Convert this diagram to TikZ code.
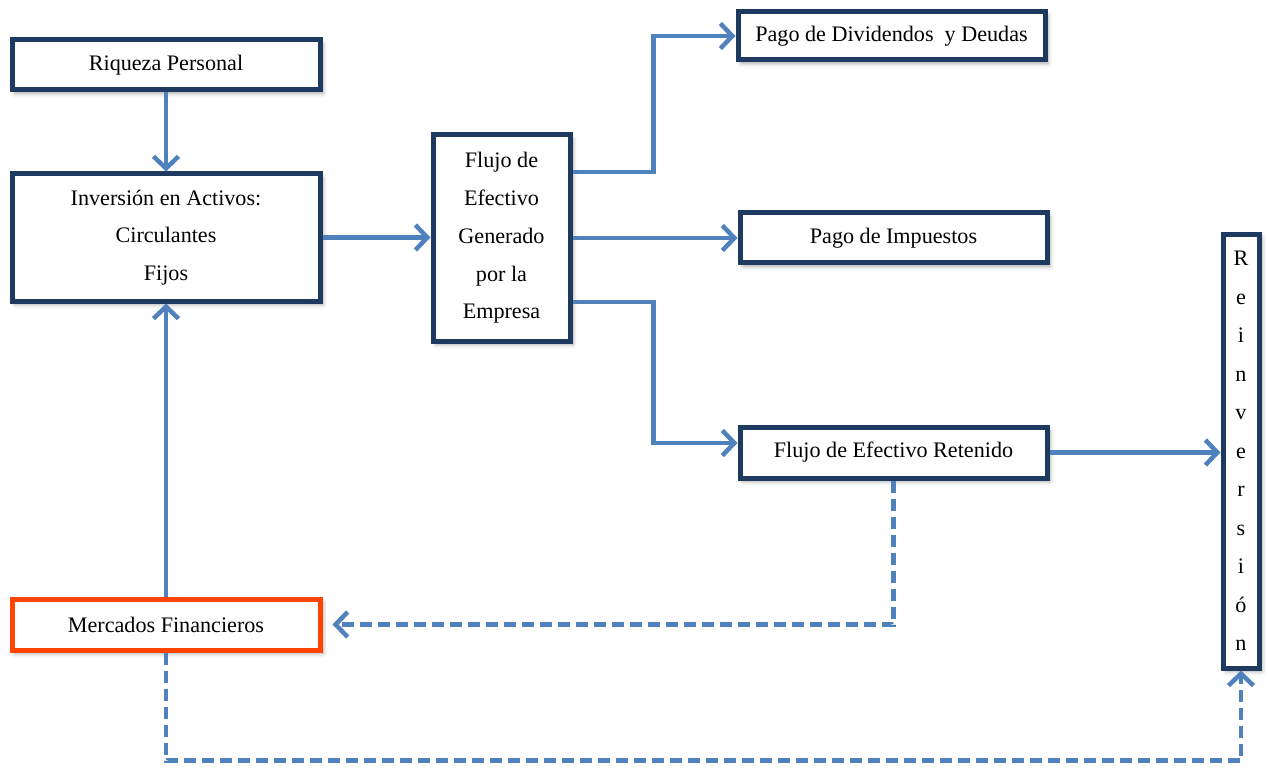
\documentclass[tikz,border=0pt]{standalone}
\usepackage{fontspec}
\setmainfont{Liberation Serif}
\usetikzlibrary{arrows.meta,shadows.blur}
\definecolor{navy}{HTML}{1F3A60}
\definecolor{flow}{HTML}{4F81BD}
\definecolor{alert}{HTML}{FF4500}
\tikzset{
  box/.style={draw=navy, line width=0.1cm, fill=white, align=center, inner sep=0pt,
    font=\fontsize{12.6}{21.5}\selectfont,
    blur shadow={shadow xshift=0.06cm, shadow yshift=-0.07cm, shadow blur radius=0.08cm, shadow opacity=35}},
  link/.style={draw=flow, line width=0.09cm, -{Straight Barb[length=0.24cm,width=0.5cm,line width=0.09cm]}},
  dlink/.style={link, dash pattern=on 0.24cm off 0.12cm},
}
\begin{document}
\begin{tikzpicture}
\useasboundingbox (0,0) rectangle (25.36,-15.36);

% boxes
\node[box, minimum width=6.16cm, minimum height=1.00cm] (riq) at (3.32,-1.30) {Riqueza Personal};
\node[box, minimum width=6.16cm, minimum height=2.54cm] (inv) at (3.32,-4.75) {Inversión en Activos:\\Circulantes\\Fijos};
\node[box, minimum width=2.74cm, minimum height=4.12cm] (flu) at (10.03,-4.76) {Flujo de\\Efectivo\\Generado\\por la\\Empresa};
\node[box, minimum width=6.14cm, minimum height=0.96cm] (div) at (17.83,-0.72) {Pago de Dividendos \ y Deudas};
\node[box, minimum width=6.14cm, minimum height=1.00cm] (imp) at (17.87,-4.76) {Pago de Impuestos};
\node[box, minimum width=6.14cm, minimum height=1.02cm] (ret) at (17.87,-9.05) {Flujo de Efectivo Retenido};
\node[box, minimum width=0.72cm, minimum height=8.68cm, font=\fontsize{12.6}{21.9}\selectfont] (rei) at (24.82,-9.02) {R\\e\\i\\n\\v\\e\\r\\s\\i\\ó\\n};
\node[box, draw=alert, minimum width=6.16cm, minimum height=1.02cm] (mer) at (3.32,-12.49) {Mercados Financieros};

% solid flows
\draw[link] (riq.south) -- (inv.north);
\draw[link] (inv.east) -- (inv.east -| flu.west);
\draw[link] ([yshift=1.32cm]flu.east) -- ++(1.62,0) |- (div.west);
\draw[link] (flu.east) -- (flu.east -| imp.west);
\draw[link] ([yshift=-1.28cm]flu.east) -- ++(1.62,0) |- ([yshift=0.19cm]ret.west);
\draw[link] (ret.east) -- (ret.east -| rei.west);
\draw[link] (mer.north) -- (inv.south);

% dashed flows
\draw[dlink] (ret.south) |- ([xshift=0.2cm]mer.east);
\draw[dlink] (mer.south) -- ++(0,-2.16) -| (rei.south);
\end{tikzpicture}
\end{document}
